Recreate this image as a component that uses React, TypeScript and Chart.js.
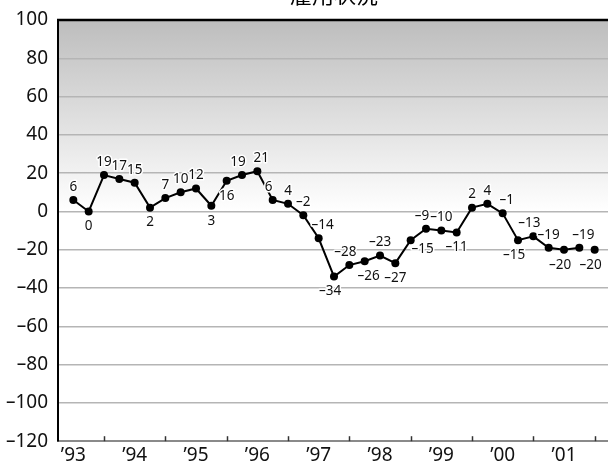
import React, { useEffect, useRef } from 'react';
import { Chart, registerables } from 'chart.js';

Chart.register(...registerables);

const chartTitle = '雇用状況';
const yearLabels = ['’93', '’94', '’95', '’96', '’97', '’98', '’99', '’00', '’01'];
const quartersPerYear = 4;
const values = [
  6, 0, 19, 17, 15, 2, 7, 10, 12, 3, 16, 19, 21, 6, 4, -2, -14, -34, -28, -26,
  -23, -27, -15, -9, -10, -11, 2, 4, -1, -15, -13, -19, -20, -19, -20,
];
const yMin = -120;
const yMax = 100;
const yStep = 20;

// label placement per point (style): a = above, b = below, with optional l/r nudge
const labelPlacement = [
  'a', 'b', 'a', 'a', 'a', 'b', 'a', 'a', 'a', 'b', 'b', 'al', 'ar', 'al', 'a', 'a', 'ar', 'bl', 'al', 'br',
  'a', 'b', 'rb', 'al', 'a', 'b', 'a', 'a', 'ar', 'bl', 'al', 'a', 'bl', 'ar', 'bl',
];

const fmt = (v: number) => (v < 0 ? '–' + Math.abs(v) : String(v));
const FONT = "'Noto Sans', 'Liberation Sans', sans-serif";

const bgPlugin = {
  id: 'bgGradient',
  beforeDraw(chart: any) {
    const { ctx, chartArea } = chart;
    const y0 = chart.scales.y.getPixelForValue(0);
    const g = ctx.createLinearGradient(0, chartArea.top, 0, y0);
    g.addColorStop(0, '#bdbdbd');
    g.addColorStop(1, '#ffffff');
    ctx.save();
    ctx.fillStyle = g;
    ctx.fillRect(chartArea.left, chartArea.top, chartArea.right - chartArea.left, y0 - chartArea.top);
    ctx.restore();
  },
};

const decoPlugin = {
  id: 'deco',
  afterDraw(chart: any) {
    const { ctx, chartArea } = chart;
    const xs = chart.scales.x;
    ctx.save();
    ctx.strokeStyle = '#333';
    ctx.lineWidth = 1.5;
    for (let i = 0; i < yearLabels.length; i++) {
      const x = Math.round(xs.getPixelForValue(i * quartersPerYear + quartersPerYear / 2)) + 0.5;
      ctx.beginPath();
      ctx.moveTo(x, chartArea.bottom);
      ctx.lineTo(x, chartArea.bottom - 5);
      ctx.stroke();
    }
    ctx.strokeStyle = '#000';
    ctx.lineWidth = 2.5;
    ctx.beginPath();
    ctx.moveTo(chartArea.left - 1, chartArea.top);
    ctx.lineTo(chartArea.right, chartArea.top);
    ctx.stroke();
    ctx.restore();
  },
};

const labelPlugin = {
  id: 'pointLabels',
  afterDatasetsDraw(chart: any) {
    const { ctx } = chart;
    const meta = chart.getDatasetMeta(0);
    ctx.save();
    ctx.font = `13.5px ${FONT}`;
    ctx.textAlign = 'center';
    ctx.textBaseline = 'middle';
    ctx.lineJoin = 'round';
    meta.data.forEach((pt: any, i: number) => {
      const p = labelPlacement[i] || 'a';
      let dx = 0;
      let dy = p.includes('b') ? 15 : -13;
      if (p === 'rb') { dx = 12; dy = 9; }
      else {
        if (p.includes('l')) dx = -4;
        if (p.includes('r')) dx = 4;
      }
      const text = fmt(values[i]);
      ctx.lineWidth = 3;
      ctx.strokeStyle = '#ffffff';
      ctx.strokeText(text, pt.x + dx, pt.y + dy);
      ctx.fillStyle = '#111';
      ctx.fillText(text, pt.x + dx, pt.y + dy);
    });
    ctx.restore();
  },
};

export default function App() {
  const ref = useRef<HTMLCanvasElement>(null);
  useEffect(() => {
    if (!ref.current) return;
    const last = values.length - 1;
    const chart = new Chart(ref.current, {
      type: 'line',
      data: {
        datasets: [
          {
            data: values.map((v, i) => ({ x: i, y: v })),
            borderColor: '#000',
            borderWidth: 2,
            pointRadius: 4,
            pointBackgroundColor: '#000',
            pointBorderWidth: 0,
            tension: 0,
            segment: {
              borderColor: (c: any) => (c.p1DataIndex === last ? 'transparent' : undefined),
            },
          },
        ],
      },
      options: {
        animation: false,
        responsive: false,
        maintainAspectRatio: false,
        layout: { padding: { left: 0, right: 10, top: 0, bottom: 0 } },
        plugins: {
          legend: { display: false },
          tooltip: { enabled: false },
          title: {
            display: true,
            text: chartTitle,
            fullSize: false,
            color: '#000',
            font: { family: "'Noto Sans CJK JP', sans-serif", size: 22, weight: 'normal', lineHeight: 1.2 },
            padding: { top: 0, bottom: 12.6 },
          },
        },
        scales: {
          x: {
            type: 'linear',
            min: -1,
            max: values.length,
            afterBuildTicks: (s: any) => {
              s.ticks = yearLabels.map((_, i) => ({ value: i * quartersPerYear }));
            },
            ticks: {
              autoSkip: false,
              maxRotation: 0,
              padding: 3,
              color: '#111',
              font: { family: FONT, size: 19 },
              callback: (v: any) => yearLabels[Math.round(Number(v) / quartersPerYear)] ?? '',
            },
            grid: { display: false, drawTicks: false },
            border: { display: true, color: '#8a8a8a', width: 2 },
          },
          y: {
            min: yMin,
            max: yMax,
            afterFit: (s: any) => {
              s.width = 58;
            },
            ticks: {
              stepSize: yStep,
              padding: 10,
              color: '#111',
              font: { family: FONT, size: 19 },
              callback: (v: any) => fmt(Number(v)),
            },
            grid: {
              drawTicks: false,
              color: (c: any) => (c.tick && (c.tick.value === yMax || c.tick.value === yMin) ? 'transparent' : '#b5b5b5'),
              lineWidth: 1.5,
            },
            border: { display: true, color: '#000', width: 2 },
          },
        },
      },
      plugins: [bgPlugin, labelPlugin, decoPlugin],
    });
    return () => chart.destroy();
  }, []);
  return (
    <div style={{ position: 'fixed', left: 0, top: 0, width: 608, height: 470, overflow: 'hidden', background: '#fff' }}>
      <canvas ref={ref} width={620} height={489} style={{ position: 'absolute', left: 0, top: -19, width: 620, height: 489 }} />
    </div>
  );
}
